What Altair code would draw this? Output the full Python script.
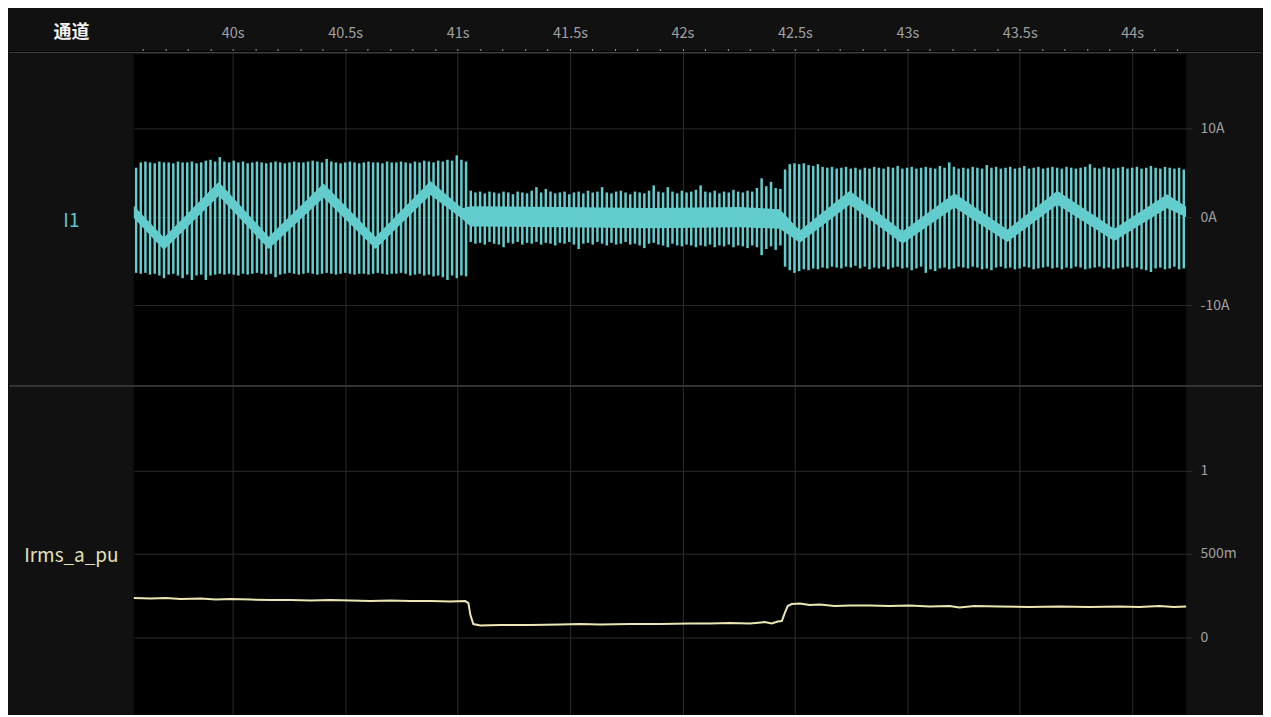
import altair as alt
import pandas as pd

FONT = "Noto Sans CJK SC"
TEAL = "#63cccc"
CREAM = "#ece7b2"

# ---- time axis ----
X_DOMAIN = [39.56, 44.24]
TICK_TIMES = [39.6, 39.7, 39.8, 39.9, 40.0, 40.1, 40.2, 40.3, 40.4, 40.5, 40.6, 40.7,
              40.8, 40.9, 41.0, 41.1, 41.2, 41.3, 41.4, 41.5, 41.6, 41.7, 41.8, 41.9,
              42.0, 42.1, 42.2, 42.3, 42.4, 42.5, 42.6, 42.7, 42.8, 42.9, 43.0, 43.1,
              43.2, 43.3, 43.4, 43.5, 43.6, 43.7, 43.8, 43.9, 44.0, 44.1, 44.2]
GRID_TIMES = [40.0, 40.5, 41.0, 41.5, 42.0, 42.5, 43.0, 43.5, 44.0]

# ---- I1 waveform: per-cycle peaks (A), three operating sections ----
SECTION_BOUNDS = [39.56, 41.048, 42.446, 44.24]

S1_HI = [5.6, 6.2, 6.3, 6.2, 6.1, 6.3, 6.2, 6.2, 6.1, 6.3,
         6.2, 6.2, 6.3, 6.1, 6.2, 6.4, 6.5, 6.3, 6.8, 6.3,
         6.2, 6.4, 6.2, 6.3, 6.1, 6.2, 6.3, 6.2, 6.1, 6.2,
         6.3, 6.2, 6.1, 6.2, 6.3, 6.2, 6.2, 6.3, 6.4, 6.3,
         6.2, 6.6, 6.3, 6.2, 6.1, 6.2, 6.3, 6.2, 6.1, 6.2,
         6.3, 6.2, 6.2, 6.1, 6.3, 6.2, 6.2, 6.3, 6.2, 6.1,
         6.3, 6.2, 6.4, 6.3, 6.2, 6.4, 6.3, 6.5, 6.4, 7.0,
         6.5, 6.3]
S1_LO = [-6.3, -6.4, -6.3, -6.5, -6.4, -6.6, -6.9, -6.5, -6.4, -6.6,
         -6.9, -6.5, -7.1, -6.6, -6.5, -7.1, -6.6, -6.5, -6.4, -6.5,
         -6.4, -6.5, -6.6, -6.4, -6.5, -6.4, -6.3, -6.4, -6.5, -6.4,
         -6.8, -6.5, -6.4, -6.3, -6.4, -6.5, -6.4, -6.3, -6.4, -6.5,
         -6.4, -6.3, -6.4, -6.5, -6.4, -6.3, -6.4, -6.5, -6.4, -6.4,
         -6.5, -6.4, -6.3, -6.4, -6.5, -6.4, -6.4, -6.3, -6.4, -6.6,
         -6.5, -6.4, -6.6, -6.5, -6.7, -6.6, -6.8, -7.1, -6.6, -6.9,
         -6.6, -6.7]
S2_HI = [3.0, 2.8, 2.9, 2.7, 2.9, 2.8, 2.7, 2.9, 2.8, 2.6,
         2.9, 2.8, 2.7, 3.0, 3.4, 2.8, 3.2, 2.9, 2.7, 2.8,
         2.9, 2.6, 2.8, 2.9, 2.7, 3.0, 2.8, 2.9, 3.4, 2.8,
         2.7, 2.9, 3.0, 2.8, 2.6, 2.9, 2.8, 2.7, 3.0, 3.6,
         2.9, 2.8, 3.4, 2.9, 2.7, 3.0, 2.8, 2.9, 3.1, 3.6,
         2.9, 2.8, 3.0, 2.7, 2.9, 2.8, 3.1, 2.9, 2.8, 3.0,
         2.9, 3.3, 4.4, 3.5, 4.0, 3.3, 3.2]
S2_LO = [-2.8, -3.0, -2.9, -3.1, -2.8, -3.0, -3.1, -3.4, -2.9, -3.0,
         -2.8, -3.1, -2.9, -3.0, -2.8, -3.1, -2.9, -3.0, -3.2, -2.9,
         -3.0, -2.8, -3.1, -3.6, -3.0, -2.9, -3.1, -2.8, -3.0, -3.2,
         -2.9, -3.1, -3.0, -2.8, -3.1, -3.0, -3.2, -3.5, -3.0, -2.9,
         -3.1, -3.2, -3.4, -3.0, -3.2, -3.3, -3.1, -3.2, -3.4, -3.2,
         -3.3, -3.1, -3.4, -3.2, -3.3, -3.1, -3.4, -3.2, -3.3, -3.5,
         -3.2, -3.4, -4.3, -3.6, -3.3, -3.7, -3.2]
S3_HI = [5.4, 6.0, 6.1, 6.0, 6.1, 5.9, 5.8, 6.0, 5.7, 5.6,
         5.7, 5.5, 5.6, 5.7, 5.5, 5.6, 5.4, 5.6, 5.5, 5.7,
         5.6, 5.5, 5.7, 5.6, 5.8, 5.5, 5.6, 5.7, 5.5, 5.6,
         5.7, 5.6, 5.5, 5.8, 5.6, 6.2, 5.7, 5.5, 5.6, 5.5,
         5.7, 5.6, 5.5, 5.9, 5.6, 5.7, 5.5, 5.6, 5.7, 5.5,
         5.6, 5.8, 5.5, 5.6, 5.7, 5.5, 5.6, 5.7, 5.6, 5.5,
         5.7, 5.6, 5.5, 5.6, 5.7, 6.0, 5.6, 5.5, 5.7, 5.6,
         5.5, 5.6, 5.7, 5.5, 5.6, 5.7, 5.5, 5.6, 5.8, 5.6,
         5.5, 5.7, 5.6, 5.5, 5.6, 5.4]
S3_LO = [-5.6, -6.0, -6.3, -6.1, -5.9, -6.0, -5.8, -5.9, -5.7, -5.8,
         -5.6, -5.7, -5.8, -5.6, -5.7, -5.5, -5.8, -5.6, -5.9, -5.7,
         -5.8, -5.6, -5.9, -5.7, -5.6, -5.8, -5.7, -6.0, -5.8, -5.6,
         -6.3, -5.9, -6.1, -5.8, -5.7, -5.9, -5.8, -5.6, -5.7, -5.8,
         -5.6, -5.7, -5.9, -5.8, -6.0, -5.7, -5.6, -5.8, -5.7, -5.9,
         -5.8, -5.6, -5.7, -5.9, -5.8, -5.7, -5.6, -5.8, -5.7, -5.9,
         -5.7, -5.8, -5.6, -5.7, -5.9, -5.8, -5.7, -5.6, -5.8, -5.7,
         -5.9, -5.8, -5.7, -5.6, -5.8, -5.7, -5.9, -6.0, -6.2, -5.8,
         -5.7, -5.9, -5.8, -5.6, -5.9, -5.8]

# ---- I1 dense core band (slow ripple), vertices ----
CORE_T = [39.560, 39.694, 39.938, 40.160, 40.404, 40.635, 40.879, 41.021, 41.057,
          41.456, 41.856, 42.255, 42.433, 42.522, 42.744, 42.979, 43.210, 43.445,
          43.667, 43.920, 44.155, 44.240]
CORE_MID = [0.6, -3.0, 3.2, -2.9, 3.0, -2.9, 3.3, 0.4, 0.1,
            0.0, -0.1, 0.0, -0.2, -2.2, 2.2, -2.3, 1.9, -2.1,
            2.2, -2.0, 1.8, 0.6]
CORE_HALF = [0.7, 0.7, 0.8, 0.7, 0.8, 0.7, 0.8, 0.6, 1.15,
             1.15, 1.15, 1.15, 1.1, 0.7, 0.8, 0.7, 0.8, 0.7,
             0.8, 0.7, 0.8, 0.6]

# ---- Irms_a_pu trace ----
IRMS_T = [39.560, 39.636, 39.703, 39.769, 39.858, 39.925, 39.991, 40.080, 40.169,
          40.257, 40.346, 40.435, 40.524, 40.613, 40.701, 40.790, 40.879, 40.968,
          41.034, 41.048, 41.057, 41.070, 41.101, 41.190, 41.323, 41.456, 41.545,
          41.634, 41.767, 41.900, 42.033, 42.122, 42.211, 42.300, 42.366, 42.397,
          42.424, 42.442, 42.455, 42.468, 42.486, 42.522, 42.566, 42.610, 42.677,
          42.744, 42.832, 42.921, 43.010, 43.099, 43.188, 43.232, 43.299, 43.410,
          43.543, 43.676, 43.809, 43.942, 44.031, 44.120, 44.186, 44.240]
IRMS_V = [0.234, 0.231, 0.234, 0.228, 0.231, 0.225, 0.228, 0.225, 0.222,
          0.222, 0.219, 0.222, 0.219, 0.216, 0.219, 0.216, 0.216, 0.213,
          0.216, 0.204, 0.132, 0.078, 0.069, 0.072, 0.072, 0.075, 0.078,
          0.075, 0.078, 0.078, 0.081, 0.081, 0.084, 0.081, 0.090, 0.081,
          0.093, 0.096, 0.144, 0.186, 0.198, 0.201, 0.192, 0.195, 0.186,
          0.189, 0.189, 0.186, 0.189, 0.183, 0.186, 0.177, 0.186, 0.183,
          0.180, 0.183, 0.180, 0.183, 0.180, 0.186, 0.180, 0.183]

# ---- build tables ----
rows = []
sections = [(S1_HI, S1_LO), (S2_HI, S2_LO), (S3_HI, S3_LO)]
for k, (his, los) in enumerate(sections):
    t0, t1 = SECTION_BOUNDS[k], SECTION_BOUNDS[k + 1]
    step = (t1 - t0) / len(his)
    for i, (h, l) in enumerate(zip(his, los)):
        rows.append({"t": t0 + (i + 0.5) * step, "lo": l, "hi": h})
cycles = pd.DataFrame(rows)

core = pd.DataFrame({
    "t": CORE_T,
    "lo": [m - h for m, h in zip(CORE_MID, CORE_HALF)],
    "hi": [m + h for m, h in zip(CORE_MID, CORE_HALF)],
})
irms = pd.DataFrame({"t": IRMS_T, "v": IRMS_V})

PLOT_W = 1054
TOP_H = 334
BOT_H = 328
LEFT_EXT = 125
RIGHT_EXT = 76

xscale = alt.Scale(domain=X_DOMAIN, nice=False, zero=False)

major_test = "abs(datum.value * 2 - round(datum.value * 2)) < 0.001"

x_top = alt.X(
    "t:Q", scale=xscale,
    axis=alt.Axis(
        orient="top", values=TICK_TIMES,
        labelExpr=f"{major_test} ? datum.value + 's' : ''",
        labelOverlap=False, labelFlush=False,
        tickSize=4, tickColor="#9a9a9a", domainColor="#3d3d3d",
        labelColor="#a0a0a0", labelFontSize=14.5, labelFont=FONT, labelPadding=8,
        gridColor="#2b2d33",
        gridOpacity={"condition": {"test": major_test, "value": 1}, "value": 0},
        title="通道", titleX=-63, titleY=-20, titleAngle=0, titleAlign="center",
        titleBaseline="middle", titleColor="#f2f2f2", titleFontSize=18,
        titleFont=FONT, titleFontWeight="bold",
    ),
)

y_top = alt.Y(
    "lo:Q", scale=alt.Scale(domain=[-19.1, 18.64], nice=False, zero=False),
    axis=alt.Axis(
        orient="right", values=[-10, 0, 10], labelExpr="datum.value + 'A'",
        tickSize=6, tickColor="#2e2e2e", domain=False, gridColor="#2a2a2a",
        labelColor="#a0a0a0", labelFontSize=14, labelFont=FONT, labelPadding=8,
        title="I1", titleAngle=0, titleX=-(PLOT_W + 63), titleY=168,
        titleAlign="center", titleBaseline="middle", titleColor="#5fc7c7",
        titleFontSize=19, titleFont=FONT, titleFontWeight="normal",
    ),
)

spikes = alt.Chart(cycles).mark_rule(color=TEAL, strokeWidth=2.5).encode(
    x=x_top, y=y_top, y2="hi:Q")
band = alt.Chart(core).mark_area(color=TEAL, opacity=1).encode(
    x=x_top, y=y_top, y2="hi:Q")
header_line = alt.Chart(cycles).mark_rule(color="#3d3d3d", strokeWidth=1).encode(
    x=alt.value(-LEFT_EXT), x2=alt.value(PLOT_W + RIGHT_EXT), y=alt.value(0))
sep_line = alt.Chart(cycles).mark_rule(color="#363636", strokeWidth=1).encode(
    x=alt.value(-LEFT_EXT), x2=alt.value(PLOT_W + RIGHT_EXT), y=alt.value(TOP_H))

top = alt.layer(band, spikes, header_line, sep_line).properties(
    width=PLOT_W, height=TOP_H)

x_bot = alt.X(
    "t:Q", scale=xscale,
    axis=alt.Axis(values=GRID_TIMES, labels=False, ticks=False, domain=False,
                  gridColor="#2b2d33", title=None),
)
y_bot = alt.Y(
    "v:Q", scale=alt.Scale(domain=[1.5 - BOT_H / 167.0, 1.5], nice=False, zero=False),
    axis=alt.Axis(
        orient="right", values=[0, 0.5, 1],
        labelExpr="datum.value == 0.5 ? '500m' : datum.value + ''",
        tickSize=6, tickColor="#2e2e2e", domain=False, gridColor="#2a2a2a",
        labelColor="#a0a0a0", labelFontSize=14, labelFont=FONT, labelPadding=8,
        title="Irms_a_pu", titleAngle=0, titleX=-(PLOT_W + 63), titleY=169,
        titleAlign="center", titleBaseline="middle", titleColor="#e6e1b8",
        titleFontSize=19, titleFont=FONT, titleFontWeight="normal",
    ),
)
bottom = alt.Chart(irms).mark_line(color=CREAM, strokeWidth=2).encode(
    x=x_bot, y=y_bot).properties(width=PLOT_W, height=BOT_H)

chart = alt.vconcat(top, bottom, spacing=0).resolve_scale(
    y="independent").properties(
    background="#111111",
    padding={"top": 15, "left": 0, "right": 0, "bottom": 0},
).configure_view(fill="#000000", strokeWidth=0)

chart.save("out.html", embed_options={"renderer": "svg", "actions": False})
